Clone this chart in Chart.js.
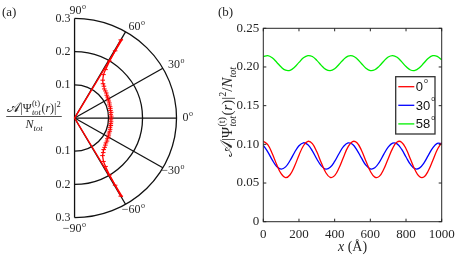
<!DOCTYPE html>
<html>
<head>
<meta charset="utf-8">
<script src="https://cdn.jsdelivr.net/npm/chart.js@4.4.1/dist/chart.umd.min.js"></script>
<style>
  body { margin: 0; background: #fff; }
  canvas { position: absolute; top: 0; }
  #polar { left: 0; }
  #lines { left: 212px; }
</style>
</head>
<body>
<canvas id="polar" width="212" height="262"></canvas>
<canvas id="lines" width="245" height="262"></canvas>
<script>
// ---- panel (a): polar data ----
const polarDeg = [60, 59.5, 59, 58, 57, 54, 51, 48, 45, 42, 39, 36, 33, 30, 27, 24, 21, 18, 15, 12, 9, 6, 3, 0,
  -3, -6, -9, -12, -15, -18, -21, -24, -27, -30, -33, -36, -39, -42, -45, -48, -51, -54, -57, -58, -59, -59.5, -60];
const polarR = [0.272, 0.235, 0.2, 0.172, 0.156, 0.141, 0.133, 0.129, 0.124, 0.122, 0.12, 0.117, 0.116, 0.114, 0.113, 0.112, 0.110, 0.110, 0.109, 0.108, 0.109, 0.107, 0.108, 0.108,
  0.107, 0.108, 0.108, 0.109, 0.108, 0.110, 0.111, 0.111, 0.113, 0.115, 0.115, 0.118, 0.119, 0.122, 0.125, 0.128, 0.134, 0.140, 0.156, 0.172, 0.2, 0.235, 0.272];
const rayDeg = [59.4, 0, -59.4];
const rayR = [0.277, 0, 0.277];
const ringRadii = [0.1, 0.2, 0.3];
const spokeDeg = [-60, -30, 0, 30, 60];
const angleTicks = [90, 60, 30, 0, -30, -60, -90];

// ---- panel (b): line data ----
const xPos = [0, 25, 50, 75, 100, 125, 150, 175, 200, 225, 250, 275, 300, 325, 350, 375, 400, 425, 450, 475,
  500, 525, 550, 575, 600, 625, 650, 675, 700, 725, 750, 775, 800, 825, 850, 875, 900, 925, 950, 975, 1000];
const red0 = [0.104, 0.0997, 0.0882, 0.0739, 0.0620, 0.0570, 0.0607, 0.0717, 0.0860, 0.0982,
  0.1039, 0.1009, 0.0903, 0.0762, 0.0636, 0.0573, 0.0596, 0.0697, 0.0837, 0.0967,
  0.1036, 0.1020, 0.0924, 0.0785, 0.0652, 0.0577, 0.0586, 0.0677, 0.0814, 0.0948,
  0.1030, 0.1028, 0.0943, 0.0808, 0.0671, 0.0584, 0.0578, 0.0658, 0.0791, 0.0930, 0.1022];
const blue30 = [0.0987, 0.0903, 0.0799, 0.0714, 0.0680, 0.0709, 0.0791, 0.0895, 0.0982, 0.1020,
  0.0994, 0.0915, 0.0811, 0.0722, 0.0681, 0.0703, 0.0779, 0.0882, 0.0973, 0.1018,
  0.1001, 0.0926, 0.0824, 0.0731, 0.0683, 0.0697, 0.0768, 0.0870, 0.0964, 0.1016,
  0.1006, 0.0937, 0.0836, 0.0740, 0.0685, 0.0692, 0.0758, 0.0858, 0.0955, 0.1013, 0.1010];
const green58 = [0.2133, 0.2147, 0.2119, 0.2062, 0.1999, 0.1958, 0.1957, 0.1996, 0.2059, 0.2118,
  0.2147, 0.2135, 0.2085, 0.2021, 0.1969, 0.1952, 0.1978, 0.2035, 0.2098, 0.2141,
  0.2144, 0.2107, 0.2045, 0.1985, 0.1954, 0.1964, 0.2011, 0.2075, 0.2129, 0.2148,
  0.2125, 0.2069, 0.2005, 0.1961, 0.1955, 0.1990, 0.2051, 0.2112, 0.2146, 0.2138, 0.2092];
const seriesNames = ['0', '30', '58'];
const xTicksStep = 200;
const yTicksStep = 0.05;

const SERIF = '"Liberation Serif", "DejaVu Serif", serif';
const INK = '#262626';

function fnt(size, italic) {
  return (italic ? 'italic ' : '') + size + 'px ' + SERIF;
}
// parts: {t, s, i, dy} or {sup, sub, s}
function partWidth(ctx, p) {
  ctx.font = fnt(p.s, p.i);
  if (p.sup !== undefined) {
    return Math.max(ctx.measureText(p.sup).width, ctx.measureText(p.sub).width) + 1;
  }
  return ctx.measureText(p.t).width;
}
function drawRich(ctx, parts, x, y, centered) {
  const ws = parts.map(p => partWidth(ctx, p));
  const total = ws.reduce((a, b) => a + b, 0);
  let cx = centered ? x - total / 2 : x;
  ctx.textAlign = 'left';
  ctx.textBaseline = 'alphabetic';
  parts.forEach((p, k) => {
    ctx.font = fnt(p.s, p.i);
    if (p.sup !== undefined) {
      ctx.fillText(p.sup, cx + 0.5, y - p.s * 0.75);
      ctx.font = fnt(p.s, true);
      ctx.fillText(p.sub, cx + 0.5, y + p.s * 0.35);
    } else {
      ctx.fillText(p.t, cx, y + (p.dy || 0));
    }
    cx += ws[k];
  });
  return total;
}
function psiParts(big, small) {
  return [
    {t: '𝒜', s: big * 1.15}, {t: '|Ψ', s: big},
    {sup: '(t)', sub: 'tot', s: small},
    {t: '(', s: big}, {t: 'r', s: big, i: true}, {t: ')|', s: big},
    {t: '2', s: small, dy: -big * 0.42}
  ];
}

const rad = d => d * Math.PI / 180;
const polarXY = (deg, r) => deg.map((d, k) => ({x: r[k] * Math.cos(rad(d)), y: r[k] * Math.sin(rad(d))}));

const polarGrid = {
  id: 'polarGrid',
  beforeDatasetsDraw(chart) {
    const ctx = chart.ctx, xs = chart.scales.x, ys = chart.scales.y;
    const cx = xs.getPixelForValue(0), cy = ys.getPixelForValue(0);
    const rMax = ringRadii[ringRadii.length - 1];
    const px = r => xs.getPixelForValue(r) - cx;
    const py = r => cy - ys.getPixelForValue(r);
    ctx.save();
    ctx.strokeStyle = '#111';
    ctx.lineWidth = 1.3;
    ringRadii.forEach(r => {
      ctx.beginPath();
      ctx.ellipse(cx, cy, px(r), py(r), 0, -Math.PI / 2, Math.PI / 2);
      ctx.stroke();
    });
    spokeDeg.forEach(d => {
      ctx.beginPath();
      ctx.moveTo(cx, cy);
      ctx.lineTo(cx + px(rMax) * Math.cos(rad(d)), cy - py(rMax) * Math.sin(rad(d)));
      ctx.stroke();
    });
    ctx.beginPath();
    ctx.moveTo(cx, cy - py(rMax));
    ctx.lineTo(cx, cy + py(rMax));
    ctx.stroke();

    // radial tick labels on the vertical axis
    ctx.fillStyle = INK;
    ctx.font = fnt(12);
    ctx.textAlign = 'right';
    ctx.textBaseline = 'middle';
    ringRadii.forEach(r => {
      ctx.fillText(String(r), cx - 4, cy - py(r));
      ctx.fillText(String(r), cx - 4, cy + py(r));
    });
    // angle labels
    ctx.textAlign = 'left';
    angleTicks.forEach(d => {
      const txt = (d < 0 ? '−' : '') + Math.abs(d);
      const off = Math.abs(d) === 90 ? 9 : 6;
      let x = cx + (px(rMax) + off) * Math.cos(rad(d));
      let y = cy - (py(rMax) + off) * Math.sin(rad(d));
      if (Math.abs(d) === 90) { x -= 5; y += d > 0 ? 1 : 2; }
      ctx.font = fnt(12);
      if (d < 0) x -= ctx.measureText('−').width;
      ctx.fillText(txt, x, y);
      const w = ctx.measureText(txt).width;
      ctx.font = fnt(8);
      ctx.fillText('o', x + w + 0.5, y - 4);
    });
    ctx.restore();
  },
  afterDraw(chart) {
    const ctx = chart.ctx;
    ctx.save();
    ctx.fillStyle = INK;
    ctx.font = fnt(13);
    ctx.textAlign = 'left';
    ctx.textBaseline = 'middle';
    ctx.fillText('(a)', 2, 13);
    // fraction label
    const w = drawRich(ctx, psiParts(12, 8.5), 34, 112, true);
    ctx.strokeStyle = INK;
    ctx.lineWidth = 0.8;
    ctx.beginPath();
    ctx.moveTo(34 - w / 2 - 1, 116.5);
    ctx.lineTo(34 + w / 2 + 1, 116.5);
    ctx.stroke();
    drawRich(ctx, [{t: 'N', s: 12, i: true}, {t: 'tot', s: 8.5, i: true, dy: 3}], 34, 127.5, true);
    ctx.restore();
  }
};

new Chart(document.getElementById('polar'), {
  type: 'scatter',
  data: {
    datasets: [
      {
        data: polarXY(rayDeg, rayR),
        showLine: true,
        borderColor: '#ff0000',
        borderWidth: 1.4,
        pointRadius: 0
      },
      {
        data: polarXY(polarDeg, polarR),
        showLine: true,
        borderColor: '#ff0000',
        backgroundColor: '#ff0000',
        borderWidth: 1.3,
        pointStyle: 'line',
        pointRadius: 2.3,
        pointBorderWidth: 1
      }
    ]
  },
  options: {
    responsive: false,
    animation: false,
    devicePixelRatio: 1,
    layout: { padding: 0 },
    scales: {
      x: { type: 'linear', display: false, min: -0.2047, max: 0.3897 },
      y: { type: 'linear', display: false, min: -0.4188, max: 0.3406 }
    },
    plugins: { legend: { display: false }, tooltip: { enabled: false } }
  },
  plugins: [polarGrid]
});

// ---- panel (b) ----
const boxTicks = {
  id: 'boxTicks',
  afterDatasetsDraw(chart) {
    const ctx = chart.ctx, a = chart.chartArea;
    const xs = chart.scales.x, ys = chart.scales.y;
    ctx.save();
    ctx.strokeStyle = INK;
    ctx.lineWidth = 1;
    ctx.strokeRect(a.left, a.top, a.right - a.left, a.bottom - a.top);
    ctx.beginPath();
    xs.ticks.forEach(t => {
      const x = xs.getPixelForValue(t.value);
      ctx.moveTo(x, a.bottom); ctx.lineTo(x, a.bottom - 3);
      ctx.moveTo(x, a.top); ctx.lineTo(x, a.top + 3);
    });
    ys.ticks.forEach(t => {
      const y = ys.getPixelForValue(t.value);
      ctx.moveTo(a.left, y); ctx.lineTo(a.left + 3, y);
      ctx.moveTo(a.right, y); ctx.lineTo(a.right - 3, y);
    });
    ctx.stroke();

    // legend
    const bx = a.right - 46, by = a.top + 48.4, bw = 39.3, bh = 57.3;
    ctx.fillStyle = '#fff';
    ctx.fillRect(bx, by, bw, bh);
    ctx.strokeStyle = '#333';
    ctx.lineWidth = 1.3;
    ctx.strokeRect(bx, by, bw, bh);
    chart.data.datasets.forEach((ds, k) => {
      const y = by + 10 + k * 18.6;
      ctx.strokeStyle = ds.borderColor;
      ctx.lineWidth = 1.3;
      ctx.beginPath();
      ctx.moveTo(bx + 2.6, y); ctx.lineTo(bx + 18.6, y);
      ctx.stroke();
      ctx.fillStyle = '#111';
      ctx.font = '13px "Liberation Sans", Arial, sans-serif';
      ctx.textAlign = 'left';
      ctx.textBaseline = 'middle';
      ctx.fillText(ds.label, bx + 20, y + 1);
      const w = ctx.measureText(ds.label).width;
      ctx.font = '7px "Liberation Sans", Arial, sans-serif';
      ctx.fillText('o', bx + 20 + w + 1, y - 6);
    });

    // titles
    ctx.fillStyle = INK;
    ctx.font = fnt(13);
    ctx.textAlign = 'left';
    ctx.textBaseline = 'middle';
    ctx.fillText('(b)', 6, 13);
    drawRich(ctx, [{t: 'x', s: 14, i: true}, {t: ' (Å)', s: 14}], (a.left + a.right) / 2, 251, true);
    ctx.translate(20, 112);
    ctx.rotate(-Math.PI / 2);
    drawRich(ctx, psiParts(15, 10).concat([{t: '/', s: 15}, {t: 'N', s: 15, i: true}, {t: 'tot', s: 10, i: true, dy: 3.5}]), 0, 0, true);
    ctx.restore();
  }
};

const toPts = ys => xPos.map((x, k) => ({x: x, y: ys[k]}));

new Chart(document.getElementById('lines'), {
  type: 'line',
  data: {
    datasets: [
      { label: seriesNames[0], data: toPts(red0), borderColor: '#ff0000' },
      { label: seriesNames[1], data: toPts(blue30), borderColor: '#0000ff' },
      { label: seriesNames[2], data: toPts(green58), borderColor: '#00f000' }
    ]
  },
  options: {
    responsive: false,
    animation: false,
    devicePixelRatio: 1,
    layout: { padding: { left: 21.3, right: 15.3, top: 28.3, bottom: 20.3 } },
    elements: {
      line: { borderWidth: 1.3, tension: 0.4 },
      point: { radius: 0 }
    },
    scales: {
      x: {
        type: 'linear', min: 0, max: 1000,
        grid: { display: false, drawTicks: false },
        border: { display: false },
        ticks: { stepSize: xTicksStep, padding: 5, color: INK, font: { family: SERIF, size: 13 },
          callback: v => String(v) },
        afterFit(s) { s.height = 20; s.paddingLeft = 0; s.paddingRight = 0; }
      },
      y: {
        min: 0, max: 0.25,
        grid: { display: false, drawTicks: false },
        border: { display: false },
        ticks: { stepSize: yTicksStep, padding: 4, color: INK, font: { family: SERIF, size: 13 } },
        afterFit(s) { s.width = 30; }
      }
    },
    plugins: { legend: { display: false }, tooltip: { enabled: false } }
  },
  plugins: [boxTicks]
});
</script>
</body>
</html>
